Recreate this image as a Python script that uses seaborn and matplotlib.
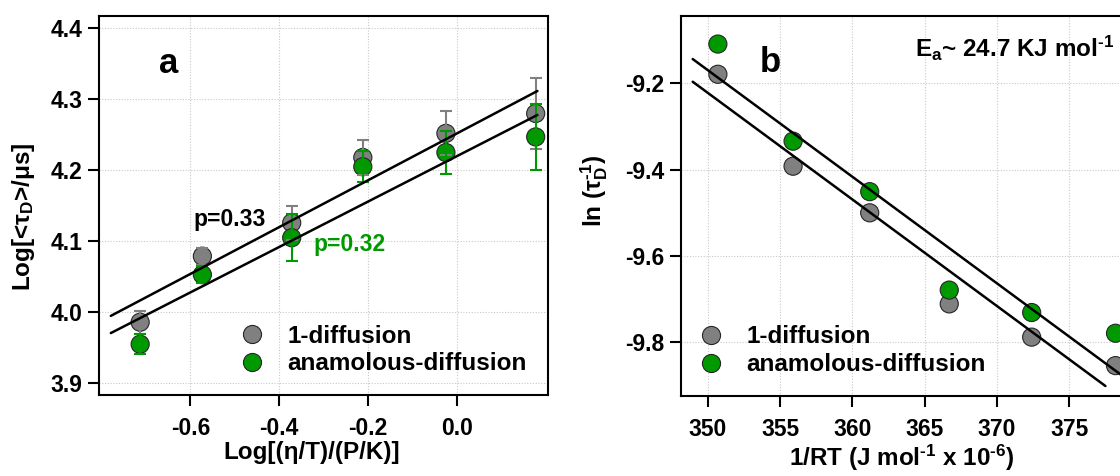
import numpy as np
import pandas as pd
import matplotlib
matplotlib.use("Agg")
import matplotlib.pyplot as plt
import seaborn as sns

# ---- panel a: diffusion time vs. viscosity term ----
tau_x = [-0.713, -0.573, -0.372, -0.212, -0.025, 0.177]
tau_single = [3.986, 4.079, 4.126, 4.218, 4.252, 4.280]
tau_single_err = [0.016, 0.012, 0.024, 0.024, 0.031, 0.050]
tau_anom = [3.955, 4.053, 4.105, 4.205, 4.225, 4.247]
tau_anom_err = [0.014, 0.012, 0.033, 0.022, 0.030, 0.046]
fit_a_slopes = [0.33, 0.32]
fit_a_intercepts = [4.252, 4.220]
fit_a_range = [-0.779, 0.181]

# ---- panel b: Arrhenius plot ----
inv_rt = [350.7, 355.9, 361.2, 366.7, 372.4, 378.2]
ln_single = [-9.179, -9.392, -9.500, -9.711, -9.788, -9.854]
ln_anom = [-9.109, -9.334, -9.451, -9.679, -9.731, -9.779]
fit_b_slope = -0.0247
fit_b_intercepts = [-0.5244, -0.5770]   # anomalous, 1-diffusion
fit_b_ranges = [[348.96, 379.0], [348.96, 377.5]]

labels = ["1-diffusion", "anamolous-diffusion"]
GREY = "#808080"
GREEN = "#009900"
palette = {labels[0]: GREY, labels[1]: GREEN}

sns.set_style("ticks")
plt.rcParams.update({
    "font.family": ["Liberation Sans", "DejaVu Sans"],
    "font.weight": "bold",
    "axes.labelweight": "bold",
    "axes.unicode_minus": False,
    "text.color": "black",
    "axes.labelcolor": "black",
    "xtick.color": "black",
    "ytick.color": "black",
    "mathtext.fontset": "custom",
    "mathtext.rm": "Liberation Sans:bold",
    "mathtext.it": "Liberation Sans:bold",
    "mathtext.bf": "Liberation Sans:bold",
    "mathtext.sf": "Liberation Sans:bold",
    "mathtext.default": "rm",
})

fig = plt.figure(figsize=(11.2, 4.76), dpi=100)
W, H = 1120.0, 476.0
axA = fig.add_axes([99 / W, 81 / H, 449 / W, 379 / H])
axB = fig.add_axes([681 / W, 80 / H, 449 / W, 380 / H])


def style_axes(ax):
    ax.set_axisbelow(True)
    ax.grid(True, color="#c8c8c8", linestyle=(0, (1, 1.5)), linewidth=0.8)
    for sp in ax.spines.values():
        sp.set_linewidth(1.5)
        sp.set_color("black")
    ax.tick_params(direction="out", length=8, width=1.5, labelsize=16.5,
                   color="black", labelcolor="black")
    ax.tick_params(axis="x", pad=7.5)
    ax.tick_params(axis="y", pad=4)


def draw_points(ax, x, y1, y2):
    df = pd.DataFrame({
        "x": list(x) + list(x),
        "y": list(y1) + list(y2),
        "model": [labels[0]] * len(x) + [labels[1]] * len(x),
    })
    sns.scatterplot(data=df, x="x", y="y", hue="model", palette=palette,
                    s=170, edgecolor="#262626", linewidth=0.8, ax=ax,
                    zorder=3)


def place_legend(ax, x0):
    sns.move_legend(ax, "center left", bbox_to_anchor=(x0, 0.1187),
                    frameon=False, title=None, fontsize=17.5,
                    handletextpad=0.96, handlelength=1.0, labelspacing=0.2,
                    borderpad=0, borderaxespad=0)
    for t in ax.get_legend().get_texts():
        t.set_color("black")


# panel a
draw_points(axA, tau_x, tau_single, tau_anom)
axA.errorbar(tau_x, tau_single, yerr=tau_single_err, fmt="none",
             ecolor=GREY, elinewidth=1.5, capsize=4.3, capthick=1.5, zorder=4)
axA.errorbar(tau_x, tau_anom, yerr=tau_anom_err, fmt="none",
             ecolor=GREEN, elinewidth=1.5, capsize=4.3, capthick=1.5, zorder=4)
xs = np.array(fit_a_range)
for m, b in zip(fit_a_slopes, fit_a_intercepts):
    axA.plot(xs, m * xs + b, color="black", lw=1.8, zorder=5)

axA.set_xlim(-0.8056, 0.2047)
axA.set_ylim(3.8835, 4.4173)
axA.set_xticks([-0.6, -0.4, -0.2, 0.0])
axA.set_yticks([3.9, 4.0, 4.1, 4.2, 4.3, 4.4])
axA.xaxis.set_major_formatter(matplotlib.ticker.FormatStrFormatter("%.1f"))
axA.yaxis.set_major_formatter(matplotlib.ticker.FormatStrFormatter("%.1f"))
style_axes(axA)
axA.set_xlabel("Log[(η/T)/(P/K)]", fontsize=17.5)
axA.set_ylabel("Log[<τ$_D$>/μs]", fontsize=17.5)
axA.xaxis.set_label_coords(0.473, -0.122)
axA.yaxis.set_label_coords(-0.138, 0.47)
axA.text(-0.6706, 4.3375, "a", fontsize=25, ha="left", va="baseline")
axA.text(-0.594, 4.122, "p=0.33", fontsize=16.5, color="black",
         ha="left", va="baseline")
axA.text(-0.322, 4.0863, "p=0.32", fontsize=16.5, color=GREEN,
         ha="left", va="baseline")
place_legend(axA, 0.3137)

# panel b
draw_points(axB, inv_rt, ln_single, ln_anom)
for b, rng in zip(fit_b_intercepts, fit_b_ranges):
    xr = np.array(rng)
    axB.plot(xr, fit_b_slope * xr + b, color="black", lw=1.8, zorder=5)

axB.set_xlim(348.15, 379.2)
axB.set_ylim(-9.9244, -9.044)
axB.set_xticks([350, 355, 360, 365, 370, 375])
axB.set_yticks([-9.8, -9.6, -9.4, -9.2])
axB.yaxis.set_major_formatter(matplotlib.ticker.FormatStrFormatter("%.1f"))
style_axes(axB)
axB.set_xlabel(r"1/RT (J mol$^{\text{-1}}$ x 10$^{\text{-6}}$)", fontsize=17.5)
axB.set_ylabel(r"ln (τ$_D^{\text{-1}}$)", fontsize=17.5)
axB.xaxis.set_label_coords(0.492, -0.122)
axB.yaxis.set_label_coords(-0.158, 0.54)
axB.text(353.62, -9.174, "b", fontsize=25, ha="left", va="baseline")
axB.text(364.34, -9.1398, r"E$_a$~ 24.7 KJ mol$^{\text{-1}}$", fontsize=17.5,
         ha="left", va="baseline")
place_legend(axB, 0.0391)

fig.savefig("out.png", dpi=100)
